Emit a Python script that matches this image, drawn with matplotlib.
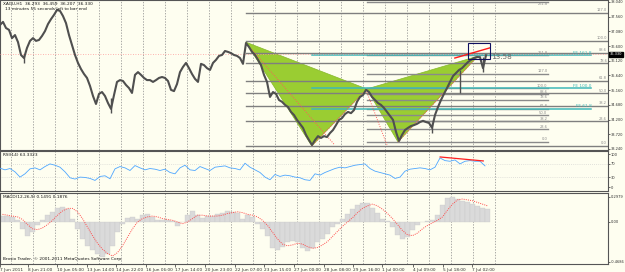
import numpy as np
import matplotlib
matplotlib.use("Agg")
import matplotlib.pyplot as plt
from matplotlib.patches import Polygon, Rectangle
import matplotlib.transforms as mtrans

# ---------------- data ----------------
close = [37.29, 37.39, 37.19, 37.13, 36.86, 36.96, 36.73, 36.31, 36.21, 36.54,
         36.77, 36.86, 36.77, 36.80, 36.93, 37.09, 37.32, 37.48, 37.62, 37.78,
         37.75, 37.58, 37.35, 36.96, 36.64, 36.31, 36.05, 35.85, 35.69, 35.56,
         35.30, 34.97, 34.71, 35.04, 35.10, 34.97, 34.74, 34.55, 35.00, 35.43,
         35.49, 35.46, 35.33, 35.23, 35.07, 35.66, 35.75, 35.66, 35.56, 35.49,
         35.49, 35.43, 35.49, 35.56, 35.59, 35.56, 35.46, 35.17, 35.13, 35.36,
         35.75, 35.92, 36.05, 35.88, 35.69, 35.53, 35.43, 36.02, 35.98, 35.88,
         35.82, 36.05, 36.15, 36.28, 36.31, 36.44, 36.41, 36.37, 36.31, 36.28,
         36.21, 36.02, 36.70, 36.57, 36.41, 36.31, 36.15, 35.98, 35.66, 35.43,
         34.94, 35.10, 35.04, 34.84, 34.78, 34.68, 34.61, 34.45, 34.35, 34.19,
         34.06, 33.93, 33.70, 33.53, 33.37, 33.53, 33.66, 33.60, 33.66, 33.63,
         33.76, 33.86, 34.02, 34.19, 34.25, 34.38, 34.45, 34.41, 34.51, 34.78,
         34.94, 35.00, 35.17, 35.10, 34.94, 34.84, 34.74, 34.68, 34.58, 34.45,
         34.32, 34.19, 33.80, 33.50, 33.70, 33.86, 33.93, 33.99, 34.02, 34.06,
         34.12, 34.16, 34.12, 34.09, 33.93, 34.35, 34.61, 34.84, 35.04, 35.23,
         35.43, 35.62, 35.72, 35.82, 35.88, 35.98, 36.08, 36.15, 36.21, 36.24,
         36.24, 35.88, 36.30]

wick_bars = [26, 121, 471, 502, 527]
wick_lows = [36.05, 34.41, 33.76, 35.07, 35.75]
wick_highs = [36.31, 34.90, 34.09, 35.82, 36.24]

rsi = [57, 52, 56, 46, 30, 40, 55, 58, 52, 62,
       70, 66, 60, 46, 28, 24, 30, 29, 26, 20,
       32, 34, 25, 55, 62, 58, 50, 65, 58, 52,
       56, 54, 50, 54, 44, 40, 58, 66, 52, 50,
       62, 56, 50, 60, 62, 64, 58, 56, 52, 72,
       60, 52, 44, 30, 22, 38, 32, 36, 34, 30,
       28, 22, 20, 40, 36, 44, 50, 56, 60, 58,
       62, 66, 68, 70, 56, 48, 44, 40, 36, 26,
       30, 48, 54, 56, 58, 56, 52, 60, 88, 80,
       78, 82, 70, 78, 80, 78, 78, 64]

macd_hist = [0.07, 0.07, 0.06, 0.02, -0.08, -0.16, -0.12, -0.03, 0.02, 0.08,
             0.12, 0.17, 0.18, 0.15, 0.04, -0.08, -0.20, -0.28, -0.33, -0.38,
             -0.41, -0.38, -0.28, -0.12, -0.02, 0.05, 0.06, 0.03, 0.08, 0.09,
             0.06, 0.02, 0.02, 0.02, 0.01, -0.05, 0.00, 0.08, 0.13, 0.08,
             0.05, 0.07, 0.07, 0.09, 0.11, 0.13, 0.12, 0.11, 0.04, 0.08,
             0.06, -0.02, -0.08, -0.16, -0.30, -0.33, -0.29, -0.24, -0.22, -0.24,
             -0.30, -0.34, -0.30, -0.24, -0.20, -0.14, -0.06, -0.02, 0.03, 0.09,
             0.15, 0.20, 0.22, 0.22, 0.17, 0.11, 0.04, 0.01, -0.06, -0.15,
             -0.20, -0.18, -0.10, -0.04, 0.00, 0.01, 0.02, 0.08, 0.20, 0.28,
             0.29, 0.27, 0.25, 0.23, 0.21, 0.19, 0.17, 0.15]
macd_signal = [0.09, 0.08, 0.07, 0.06, 0.03, -0.03, -0.08, -0.09, -0.07, -0.03,
               0.02, 0.08, 0.13, 0.16, 0.16, 0.12, 0.04, -0.06, -0.16, -0.25,
               -0.32, -0.37, -0.40, -0.36, -0.28, -0.18, -0.08, 0.00, 0.04, 0.06,
               0.07, 0.06, 0.04, 0.03, 0.02, 0.00, -0.02, 0.00, 0.04, 0.08,
               0.08, 0.07, 0.07, 0.07, 0.08, 0.10, 0.11, 0.12, 0.11, 0.09,
               0.08, 0.06, 0.02, -0.04, -0.12, -0.20, -0.26, -0.28, -0.27, -0.25,
               -0.26, -0.29, -0.31, -0.30, -0.27, -0.23, -0.17, -0.11, -0.05, 0.00,
               0.05, 0.11, 0.16, 0.19, 0.21, 0.19, 0.15, 0.10, 0.04, -0.03,
               -0.10, -0.15, -0.16, -0.13, -0.08, -0.04, -0.01, 0.02, 0.06, 0.14,
               0.21, 0.26, 0.27, 0.26, 0.25, 0.23, 0.21, 0.19]

time_labels = ["7 Jun 2011", "8 Jun 21:00", "10 Jun 05:00", "13 Jun 14:00", "14 Jun 22:00",
               "16 Jun 06:00", "17 Jun 14:00", "20 Jun 23:00", "22 Jun 07:00", "23 Jun 15:00",
               "27 Jun 00:00", "28 Jun 08:00", "29 Jun 16:00", "1 Jul 00:00", "4 Jul 09:00",
               "5 Jul 18:00", "7 Jul 02:00"]
label_bars = [0, 30, 62, 95, 127, 159, 191, 224, 256, 288, 321, 353, 385, 417, 450, 483, 515]

price_ticks = [38.040, 37.560, 37.080, 36.600, 36.120, 35.640, 35.160, 34.680, 34.200, 33.720, 33.240]
rsi_ticks = [100, 70, 30, 0]
macd_ticks = [0.2979, 0.0, -0.4686]
macd_tick_labels = ["0.2979", "0.00", "-0.4686"]

pattern_bars = [268, 340, 400, 434, 521]          # X A B C D
pattern_prices = [36.73, 33.34, 35.20, 33.47, 36.27]

fib_a_low, fib_a_high = 33.34, 36.77
fib_a_levels = [0.0, 23.6, 38.2, 50.0, 61.8, 78.6, 88.6, 100.0, 127.0]
fib_b_low, fib_b_high = 33.47, 35.22
fib_b_levels = [0.0, 23.6, 38.2, 50.0, 61.8, 78.6, 88.6, 100.0, 127.0, 161.8, 261.8]
fe_levels = [61.8, 100.0, 161.8]

dot_start_bars = [273, 400, 340, 434]
dot_start_prices = [36.54, 35.10, 33.34, 33.47]
dot_end_bars = [365, 422, 400, 521]
dot_end_prices = [33.37, 33.37, 35.20, 36.27]

trend_bars = [496, 534]
trend_prices = [36.21, 36.54]
box_bars = [510, 534]
box_prices = [36.18, 36.70]
rsi_div_bars = [480, 527]
rsi_div_vals = [91, 79]

bid = 36.330
grid_bars = list(range(12, 545, 24))

# ---------------- layout ----------------
BAR_PX = 0.917
W, H = 625, 272
BG = "#FEFEF0"
FS = 3.1
RFS = 2.6
XMAX = 608 / BAR_PX

fig = plt.figure(figsize=(W / 100, H / 100), dpi=100, facecolor=BG)

def fax(top, bottom):
    return fig.add_axes([0, 1 - bottom / H, 608 / W, (bottom - top) / H], facecolor=BG)

axp = fax(0, 150)
axr = fax(151, 191)
axm = fax(193, 264)

for a in (axp, axr, axm):
    a.set_xlim(0, XMAX)
    for s in a.spines.values():
        s.set_color("#555555")
        s.set_linewidth(0.8)
    for gb in grid_bars:
        a.axvline(gb, color="#8a8a8a", lw=0.5, ls=(0, (2, 2)), zorder=0.5)
    a.yaxis.tick_right()
    a.tick_params(axis="y", labelsize=RFS, length=1.2, pad=0.6, width=0.5, colors="#303030")
    a.tick_params(axis="x", length=0, labelbottom=False)

# ---------------- price panel ----------------
axp.set_ylim(33.207, 38.105)
axp.set_yticks(price_ticks)
axp.set_yticklabels([f"{v:.3f}" for v in price_ticks])

# green butterfly
X, A, B, C, D = zip(pattern_bars, pattern_prices)
axp.add_patch(Polygon([X, A, B], closed=True, facecolor="#9ACD32", edgecolor="#86b82a", lw=0.5, zorder=1))
axp.add_patch(Polygon([B, C, D], closed=True, facecolor="#9ACD32", edgecolor="#86b82a", lw=0.5, zorder=1))

# fib set A
for lv in fib_a_levels:
    p = fib_a_low + (fib_a_high - fib_a_low) * lv / 100
    axp.plot([pattern_bars[0], XMAX - 0.5], [p, p], color="#7f7f7f", lw=1.0, zorder=2)
    axp.text(XMAX - 1, p + 0.02, f"{lv:.1f}", fontsize=FS * 0.85, color="#8a8a8a", ha="right", va="bottom", zorder=6)
# fib set B
for lv in fib_b_levels:
    p = fib_b_low + (fib_b_high - fib_b_low) * lv / 100
    axp.plot([pattern_bars[2], 598], [p, p], color="#8a8a8a", lw=1.0, zorder=2)
    top = p > 37.95
    axp.text(597, p - 0.02 if top else p + 0.02, f"{lv:.1f}", fontsize=FS * 0.85, color="#8a8a8a",
             ha="right", va="top" if top else "bottom", zorder=6)
# FE lines
for lv in fe_levels:
    p = fib_b_low + (fib_b_high - fib_b_low) * lv / 100
    axp.plot([pattern_bars[1], 645], [p, p], color="#3FB8B8", lw=1.1, zorder=2.5)
    axp.text(645, p + 0.02, f"FE {lv:.1f}", fontsize=FS, color="#3FB8B8", ha="right", va="bottom", zorder=6)

# dotted red lines
for xs, ys, xe, ye in zip(dot_start_bars, dot_start_prices, dot_end_bars, dot_end_prices):
    axp.plot([xs, xe], [ys, ye], color="#ff5a5a", lw=0.7, ls=(0, (1, 1.5)), zorder=2.8)

# bid line
axp.axhline(bid, color="#ff9a9a", lw=0.6, ls=(0, (1, 2)), zorder=2.6)

# price
xc = np.arange(len(close)) * 3 / BAR_PX
axp.plot(xc, close, color="#4f4f4f", lw=1.5, zorder=3)
axp.vlines(wick_bars, wick_lows, wick_highs, color="#505050", lw=1.0, zorder=3)

# trend line, rectangle, text
axp.plot(trend_bars, trend_prices, color="#ff1a1a", lw=1.0, zorder=4)
axp.add_patch(Rectangle((box_bars[0], box_prices[0]), box_bars[1] - box_bars[0], box_prices[1] - box_prices[0],
                        fill=False, edgecolor="#101060", lw=0.8, zorder=4))
axp.text(box_bars[1] + 2, 36.26, "13.58", fontsize=5.2, color="#6a6a6a", va="center", ha="left", zorder=5)

# current price label
tr = mtrans.blended_transform_factory(axp.transAxes, axp.transData)
axp.text(1.003, bid, f"{bid:.3f}", transform=tr, fontsize=RFS, color="white", ha="left", va="center",
         bbox=dict(facecolor="black", edgecolor="black", pad=0.3), clip_on=False, zorder=10)

axp.text(3 / 608, 1 - 4 / 150, "XAGU,H1  36.293  36.459  36.207  36.330", transform=axp.transAxes,
         fontsize=FS, color="#111111", ha="left", va="center")
axp.text(5 / 608, 1 - 9.5 / 150, "13 minutes 55 seconds left to bar end", transform=axp.transAxes,
         fontsize=FS, color="#111111", ha="left", va="center")

# ---------------- RSI panel ----------------
axr.set_ylim(-12.1, 109.1)
axr.set_yticks(rsi_ticks)
axr.set_yticklabels([str(v) for v in rsi_ticks])
for lv in (70, 30):
    axr.axhline(lv, color="#c8c8c8", lw=0.5, ls=(0, (1, 2)), zorder=0.6)
xr = np.arange(len(rsi)) * 5 / BAR_PX
axr.plot(xr, rsi, color="#4da6ff", lw=0.6, zorder=3)
axr.plot(rsi_div_bars, rsi_div_vals, color="#ff2020", lw=0.9, zorder=4)
axr.text(3 / 608, 1 - 4.5 / 40, "RSI(14) 63.3323", transform=axr.transAxes, fontsize=FS,
         color="#111111", ha="left", va="center")

# ---------------- MACD panel ----------------
axm.set_ylim(-0.494, 0.341)
axm.set_yticks(macd_ticks)
axm.set_yticklabels(macd_tick_labels)
xm = np.arange(len(macd_hist)) * 5 / BAR_PX
axm.bar(xm, macd_hist, width=5 / BAR_PX, color="#dadada", edgecolor="#c4c4c4", lw=0.2, align="edge", zorder=2)
axm.plot(xm + 2.5 / BAR_PX, macd_signal, color="#ff4a4a", lw=0.7, ls=(0, (1, 1.2)), zorder=3)
axm.text(3 / 608, 1 - 4.5 / 71, "MACD(12,26,9) 0.1491 0.1876", transform=axm.transAxes, fontsize=FS,
         color="#111111", ha="left", va="center")
axm.text(3 / 608, 5 / 71, "Brosio Trader, \u00a9 2001-2011 MetaQuotes Software Corp.", transform=axm.transAxes,
         fontsize=FS, color="#111111", ha="left", va="center")

axm.set_xticks(label_bars)
axm.set_xticklabels(time_labels)
axm.tick_params(axis="x", labelbottom=True, length=2, width=0.5, pad=1, labelsize=FS, colors="#303030")
for lab in axm.get_xticklabels():
    lab.set_horizontalalignment("left")

fig.savefig("out.png", dpi=100, facecolor=BG)
